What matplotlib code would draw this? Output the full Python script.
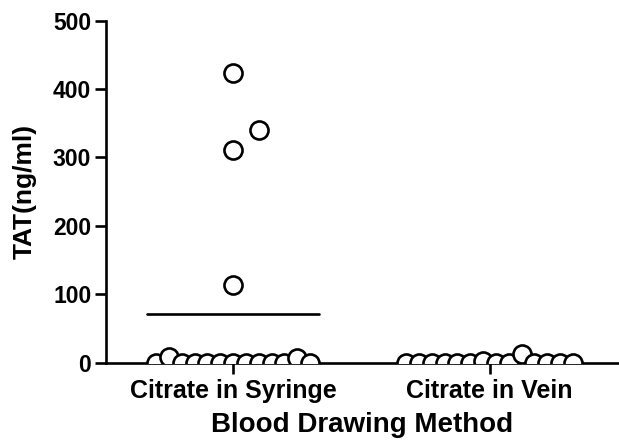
import numpy as np
import matplotlib
matplotlib.use("Agg")
import matplotlib.pyplot as plt

plt.rcParams['font.family'] = ['Liberation Sans', 'DejaVu Sans']
plt.rcParams['font.weight'] = 'bold'

# data
categories = ['Citrate in Syringe', 'Citrate in Vein']
syringe_high = [423, 340, 310, 113]
syringe_low = [0, 8, 0, 0, 0, 0, 0, 0, 0, 0, 0, 7, 0]   # left to right along the axis
vein_low = [0, 0, 0, 0, 0, 0, 2, 0, 0, 12, 0, 0, 0, 0]
y_ticks = [0, 100, 200, 300, 400, 500]

fig = plt.figure(figsize=(6.19, 4.41), dpi=100)
ax = fig.add_axes([0.171, 0.178, 0.827, 0.7755])

marker_kw = dict(marker='o', linestyle='none', markersize=13, markerfacecolor='white',
                 markeredgecolor='black', markeredgewidth=1.9, zorder=3)

def row_offsets(n, step=0.05):
    return (np.arange(n) - (n - 1) / 2) * step

# group 1
high_dx = [0, 0.1, 0, 0]
ax.plot(np.array(high_dx) + 0, syringe_high, **marker_kw)
ax.plot(row_offsets(len(syringe_low)) + 0, syringe_low, **marker_kw)
# group 2
ax.plot(row_offsets(len(vein_low)) + 1, vein_low, **marker_kw)

# mean lines
all_syringe = syringe_high + syringe_low
for i, vals in enumerate([all_syringe, vein_low]):
    ax.plot([i - 0.335, i + 0.335], [np.mean(vals)] * 2, color='black', lw=1.9,
            solid_capstyle='round', zorder=2)

ax.set_xlim(-0.496, 1.5)
ax.set_ylim(0, 500)
ax.set_xticks([0, 1])
ax.set_xticklabels(categories)
ax.set_yticks(y_ticks)
ax.tick_params(axis='both', direction='out', length=8, width=1.9)
ax.tick_params(axis='x', labelsize=18, pad=4)
ax.tick_params(axis='y', labelsize=16.5, pad=2.5)
for s in ['top', 'right']:
    ax.spines[s].set_visible(False)
for s in ['left', 'bottom']:
    ax.spines[s].set_linewidth(1.9)

ax.set_xlabel('Blood Drawing Method', fontsize=20, fontweight='bold')
ax.set_ylabel('TAT(ng/ml)', fontsize=19, fontweight='bold')
ax.xaxis.set_label_coords(0.5, -0.146)
ax.yaxis.set_label_coords(-0.135, 0.5)

fig.savefig('out.png', dpi=100)
